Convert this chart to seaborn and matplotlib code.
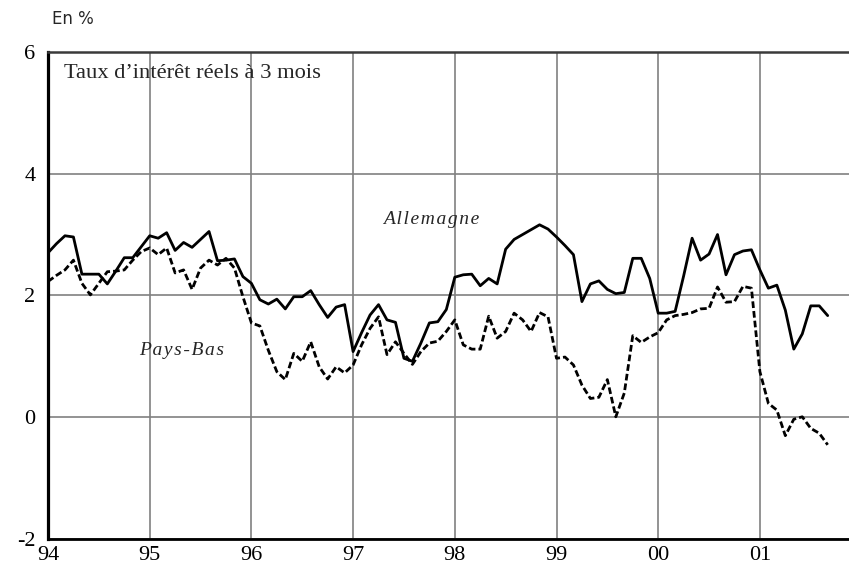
# Taux d'intérêt réels à 3 mois : Allemagne / Pays-Bas
import matplotlib
matplotlib.use("Agg")
import matplotlib.pyplot as plt
import seaborn as sns
import pandas as pd
import numpy as np

sns.set_style("white")
plt.rcParams['font.family'] = ['Liberation Serif', 'DejaVu Serif']
plt.rcParams['axes.unicode_minus'] = False

# monthly values, janvier 1994 -> septembre 2001
allemagne = [2.70, 2.85, 2.98, 2.96, 2.35, 2.35, 2.35, 2.19, 2.40, 2.62, 2.62, 2.80,
             2.98, 2.94, 3.03, 2.74, 2.87, 2.79, 2.92, 3.05, 2.57, 2.58, 2.60, 2.31,
             2.20, 1.93, 1.86, 1.94, 1.78, 1.98, 1.98, 2.08, 1.85, 1.64, 1.81, 1.85,
             1.08, 1.39, 1.68, 1.85, 1.60, 1.56, 0.97, 0.92, 1.22, 1.55, 1.57, 1.77,
             2.30, 2.34, 2.35, 2.16, 2.28, 2.19, 2.76, 2.92, 3.00, 3.08, 3.16, 3.09,
             2.96, 2.82, 2.67, 1.90, 2.19, 2.24, 2.10, 2.03, 2.05, 2.61, 2.61, 2.28,
             1.71, 1.71, 1.74, 2.32, 2.94, 2.58, 2.68, 3.00, 2.34, 2.67, 2.73, 2.75,
             2.42, 2.12, 2.17, 1.76, 1.12, 1.37, 1.83, 1.83, 1.67]
pays_bas = [2.23, 2.33, 2.42, 2.58, 2.20, 2.01, 2.20, 2.39, 2.40, 2.42, 2.58, 2.72,
            2.78, 2.67, 2.78, 2.37, 2.42, 2.10, 2.45, 2.58, 2.50, 2.61, 2.45, 1.98,
            1.55, 1.50, 1.10, 0.75, 0.62, 1.05, 0.92, 1.24, 0.83, 0.63, 0.83, 0.73,
            0.86, 1.19, 1.46, 1.65, 1.03, 1.24, 1.05, 0.87, 1.08, 1.22, 1.25, 1.41,
            1.60, 1.19, 1.12, 1.12, 1.66, 1.30, 1.41, 1.71, 1.60, 1.41, 1.72, 1.65,
            0.97, 0.99, 0.86, 0.53, 0.31, 0.33, 0.62, 0.01, 0.40, 1.34, 1.23, 1.32,
            1.39, 1.60, 1.67, 1.69, 1.72, 1.78, 1.79, 2.14, 1.89, 1.90, 2.15, 2.12,
            0.75, 0.23, 0.12, -0.30, -0.03, 0.01, -0.18, -0.26, -0.45]
years = [94, 95, 96, 97, 98, 99, 100, 101]
year_labels = ['94', '95', '96', '97', '98', '99', '00', '01']
y_ticks = [-2, 0, 2, 4, 6]

# decimal dates (one point per month)
dates = 94 + np.arange(len(allemagne)) / 12
wide = pd.DataFrame({'Date': dates, 'Allemagne': allemagne, 'Pays-Bas': pays_bas})
data = wide.melt(id_vars='Date', var_name='Pays', value_name='Taux')

fig = plt.figure(figsize=(8.49, 5.67), dpi=100)
ax = fig.add_axes([48 / 849, 27.7 / 567, 813.6 / 849, 487.6 / 567])

sns.lineplot(data=data, x='Date', y='Taux', hue='Pays', style='Pays',
             palette={'Allemagne': 'black', 'Pays-Bas': 'black'},
             dashes={'Allemagne': '', 'Pays-Bas': (2.4, 1.1)},
             linewidth=2.0, legend=False, ax=ax)

ax.set_xlim(94, 102)
ax.set_ylim(-2, 6)
ax.set_xticks(years)
ax.set_xticklabels(year_labels)
ax.set_yticks(y_ticks)
ax.set_xlabel('')
ax.set_ylabel('')
ax.set_axisbelow(True)
ax.grid(True, color='#808080', linewidth=1.2)
ax.tick_params(direction='in', length=6.5, width=1.5, colors='black', labelsize=16)
ax.tick_params(axis='x', pad=5)
ax.tick_params(axis='y', pad=9)

ax.spines['left'].set_linewidth(2.3)
ax.spines['left'].set_color('black')
ax.spines['bottom'].set_linewidth(2.0)
ax.spines['bottom'].set_color('black')
ax.spines['top'].set_linewidth(1.8)
ax.spines['top'].set_color('#3a3a3a')
ax.spines['right'].set_visible(False)

ax.text(94.157, 5.65, "Taux d\u2019intérêt réels à 3 mois", fontsize=16.2, va='center', ha='left')
ax.text(97.77, 3.17, '\u200a'.join('Allemagne'), fontsize=14, style='italic', ha='center', va='baseline')
ax.text(95.31, 1.03, '\u200a'.join('Pays-Bas'), fontsize=14, style='italic', ha='center', va='baseline')

fig.text(52 / 849, 1 - 19 / 567, 'En %', fontsize=12, family='DejaVu Sans', va='center', ha='left')

plt.savefig('out.png', dpi=100)
